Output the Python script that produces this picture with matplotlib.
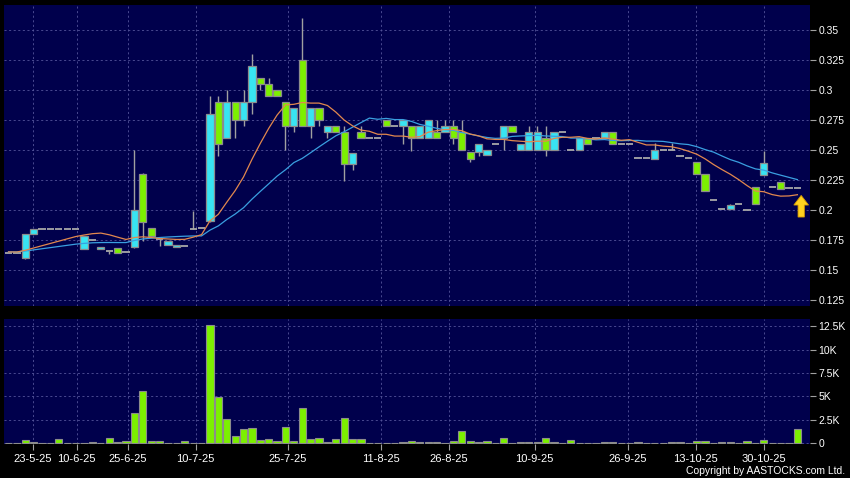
import matplotlib
matplotlib.use("Agg")
import matplotlib.pyplot as plt
import numpy as np
import pandas as pd

plt.rcParams['font.family'] = ['Liberation Sans', 'DejaVu Sans']

# ---------------- data ----------------
opens = [0.164, 0.164, 0.160, 0.180, 0.184, 0.184, 0.184, 0.184, 0.184, 0.167,
         0.175, 0.167, 0.166, 0.168, 0.165, 0.169, 0.230, 0.185, 0.176, 0.171,
         0.169, 0.170, 0.184, 0.185, 0.191, 0.290, 0.260, 0.290, 0.275, 0.290,
         0.310, 0.305, 0.300, 0.290, 0.270, 0.325, 0.270, 0.285, 0.265, 0.270,
         0.265, 0.238, 0.265, 0.260, 0.260, 0.275, 0.270, 0.270, 0.270, 0.260,
         0.260, 0.265, 0.265, 0.270, 0.265, 0.248, 0.248, 0.246, 0.255, 0.260,
         0.270, 0.250, 0.250, 0.250, 0.260, 0.250, 0.265, 0.250, 0.250, 0.260,
         0.260, 0.260, 0.265, 0.255, 0.255, 0.243, 0.243, 0.242, 0.250, 0.250,
         0.245, 0.243, 0.240, 0.230, 0.208, 0.201, 0.201, 0.205, 0.200, 0.219,
         0.229, 0.219, 0.223, 0.218, 0.218]
highs = [0.164, 0.164, 0.180, 0.184, 0.184, 0.184, 0.184, 0.184, 0.184, 0.178,
         0.175, 0.169, 0.166, 0.168, 0.165, 0.250, 0.231, 0.185, 0.176, 0.174,
         0.171, 0.170, 0.199, 0.185, 0.295, 0.295, 0.300, 0.290, 0.300, 0.330,
         0.310, 0.310, 0.300, 0.290, 0.285, 0.360, 0.285, 0.285, 0.270, 0.270,
         0.270, 0.247, 0.270, 0.260, 0.260, 0.275, 0.270, 0.275, 0.270, 0.270,
         0.275, 0.275, 0.275, 0.275, 0.275, 0.248, 0.255, 0.250, 0.255, 0.270,
         0.270, 0.255, 0.270, 0.270, 0.270, 0.265, 0.265, 0.250, 0.260, 0.260,
         0.260, 0.265, 0.265, 0.255, 0.255, 0.243, 0.243, 0.256, 0.250, 0.256,
         0.245, 0.243, 0.240, 0.230, 0.208, 0.201, 0.205, 0.205, 0.200, 0.219,
         0.249, 0.219, 0.223, 0.218, 0.218]
lows = [0.164, 0.164, 0.159, 0.180, 0.184, 0.184, 0.184, 0.184, 0.184, 0.167,
        0.175, 0.167, 0.163, 0.164, 0.165, 0.168, 0.174, 0.178, 0.170, 0.171,
        0.169, 0.170, 0.184, 0.185, 0.190, 0.245, 0.260, 0.260, 0.270, 0.280,
        0.300, 0.295, 0.295, 0.250, 0.265, 0.270, 0.260, 0.270, 0.260, 0.265,
        0.224, 0.233, 0.260, 0.260, 0.260, 0.270, 0.270, 0.255, 0.249, 0.260,
        0.260, 0.260, 0.265, 0.255, 0.250, 0.240, 0.245, 0.246, 0.255, 0.250,
        0.265, 0.250, 0.250, 0.250, 0.245, 0.250, 0.265, 0.250, 0.250, 0.255,
        0.260, 0.260, 0.255, 0.255, 0.255, 0.243, 0.243, 0.242, 0.250, 0.250,
        0.245, 0.243, 0.230, 0.216, 0.208, 0.201, 0.201, 0.205, 0.200, 0.205,
        0.229, 0.219, 0.217, 0.218, 0.218]
closes = [0.164, 0.164, 0.180, 0.184, 0.184, 0.184, 0.184, 0.184, 0.184, 0.178,
          0.175, 0.169, 0.166, 0.164, 0.165, 0.200, 0.190, 0.178, 0.176, 0.174,
          0.171, 0.170, 0.184, 0.185, 0.280, 0.255, 0.290, 0.275, 0.290, 0.320,
          0.305, 0.295, 0.295, 0.270, 0.285, 0.270, 0.285, 0.275, 0.270, 0.265,
          0.238, 0.247, 0.260, 0.260, 0.260, 0.270, 0.270, 0.275, 0.260, 0.270,
          0.275, 0.260, 0.270, 0.260, 0.250, 0.242, 0.255, 0.250, 0.255, 0.270,
          0.265, 0.255, 0.265, 0.265, 0.250, 0.265, 0.265, 0.250, 0.260, 0.255,
          0.260, 0.265, 0.255, 0.255, 0.255, 0.243, 0.243, 0.250, 0.250, 0.250,
          0.245, 0.243, 0.230, 0.216, 0.208, 0.201, 0.204, 0.205, 0.200, 0.205,
          0.239, 0.219, 0.217, 0.218, 0.218]
volumes = [0, 0, 350, 150, 0, 0, 430, 0, 0, 60,
           150, 60, 530, 150, 230, 3230, 5550, 280, 230, 40,
           30, 230, 40, 0, 12570, 4950, 2640, 780, 1590, 1680,
           320, 460, 210, 1740, 210, 3810, 430, 610, 180, 500,
           2740, 430, 500, 0, 0, 40, 0, 140, 210, 140,
           140, 140, 40, 250, 1280, 290, 150, 230, 0, 570,
           40, 130, 130, 130, 540, 130, 0, 400, 40, 40,
           0, 100, 100, 0, 0, 170, 0, 40, 0, 170,
           100, 0, 280, 280, 0, 170, 100, 0, 230, 40,
           320, 0, 60, 0, 1500]
# closes before the visible window (needed for the moving averages' start)
prior_closes = [0.165, 0.165, 0.165, 0.165, 0.165, 0.165, 0.165, 0.165, 0.165, 0.165,
                0.165, 0.165, 0.165, 0.165, 0.165, 0.165, 0.165, 0.165, 0.165]

date_labels = ['23-5-25', '10-6-25', '25-6-25', '10-7-25', '25-7-25', '11-8-25',
               '26-8-25', '10-9-25', '26-9-25', '13-10-25', '30-10-25']
date_pos = [2.9, 8.1, 14.2, 22.3, 33.3, 44.4, 52.5, 62.7, 73.8, 81.9, 90.0]
price_ticks = [0.125, 0.15, 0.175, 0.2, 0.225, 0.25, 0.275, 0.3, 0.325, 0.35]
price_tick_labels = ['0.125', '0.15', '0.175', '0.2', '0.225', '0.25', '0.275', '0.3', '0.325', '0.35']
vol_ticks = [0, 2500, 5000, 7500, 10000, 12500]
vol_tick_labels = ['0', '2.5K', '5K', '7.5K', '10K', '12.5K']

# ---------------- derived ----------------
o = np.array(opens); h = np.array(highs); l = np.array(lows); c = np.array(closes)
v = np.array(volumes)
n = len(c)
x = np.arange(n)
allc = pd.Series(prior_closes + closes)
ma10 = allc.rolling(10, min_periods=1).mean().to_numpy()[len(prior_closes):]
ma20 = allc.rolling(20, min_periods=1).mean().to_numpy()[len(prior_closes):]

up = c > o
down = c < o
flat = c == o

# ---------------- style ----------------
BG = '#00004C'
CYAN = '#38E4F2'
GREEN = '#7CF000'
EDGE = '#8C8C8C'
GRID = '#54549A'
W = 0.86

fig = plt.figure(figsize=(8.5, 4.78), dpi=100, facecolor='black')
ax = fig.add_axes([4/850, 1-306/478, 806/850, 301/478], facecolor=BG)
axv = fig.add_axes([4/850, 1-444/478, 806/850, 125/478], facecolor=BG, sharex=ax)

# price panel
ax.vlines(x[h > l], l[h > l], h[h > l], color='#A0A0A0', lw=1.0, zorder=2)
ax.bar(x[up], (c - o)[up], bottom=o[up], width=W, color=CYAN, edgecolor=EDGE, lw=0.9, zorder=3)
ax.bar(x[down], (o - c)[down], bottom=c[down], width=W, color=GREEN, edgecolor=EDGE, lw=0.9, zorder=3)
ax.hlines(c[flat], x[flat] - W/2, x[flat] + W/2, color='#A8A8A8', lw=1.3, zorder=3)
ax.plot(x, ma20, color='#3A9FE0', lw=0.9, zorder=4)
ax.plot(x, ma10, color='#E2884E', lw=0.9, zorder=4)

# arrow at the latest candle
ax.arrow(x[-1] + 0.45, c[-1] - 0.024, 0, 0.018, width=0.75, head_width=1.75,
         head_length=0.008, length_includes_head=True, facecolor='#FFD21F',
         edgecolor='#D89A00', lw=0.6, zorder=6)

ax.set_xlim(-0.54, 95.5)
ax.set_ylim(0.1198, 0.3708)
ax.set_yticks(price_ticks)
ax.set_yticklabels(price_tick_labels)
ax.set_xticks(date_pos)

# volume panel
axv.bar(x, v, width=W, color=GREEN, edgecolor=EDGE, lw=0.8, zorder=3)
axv.set_ylim(-60, 13250)
axv.set_yticks(vol_ticks)
axv.set_yticklabels(vol_tick_labels)
axv.set_xticks(date_pos)
axv.set_xticklabels(date_labels)

for a in (ax, axv):
    a.yaxis.tick_right()
    for s in a.spines.values():
        s.set_visible(False)
    a.set_axisbelow(True)
    a.grid(True, color=GRID, ls=(0, (2.5, 3)), lw=0.6)
    a.tick_params(axis='y', colors='#A0A0A0', labelcolor='white', length=4,
                  width=0.8, labelsize=7.5, pad=2)
    a.tick_params(axis='x', colors='#A0A0A0', labelcolor='white', length=4,
                  width=0.8, labelsize=8, pad=3)

ax.tick_params(axis='x', bottom=False, labelbottom=False)

fig.text(845/850, 1-471/478, 'Copyright by AASTOCKS.com Ltd.', ha='right', va='center',
         color='white', fontsize=7.5)

fig.savefig('out.png', dpi=100, facecolor='black')
